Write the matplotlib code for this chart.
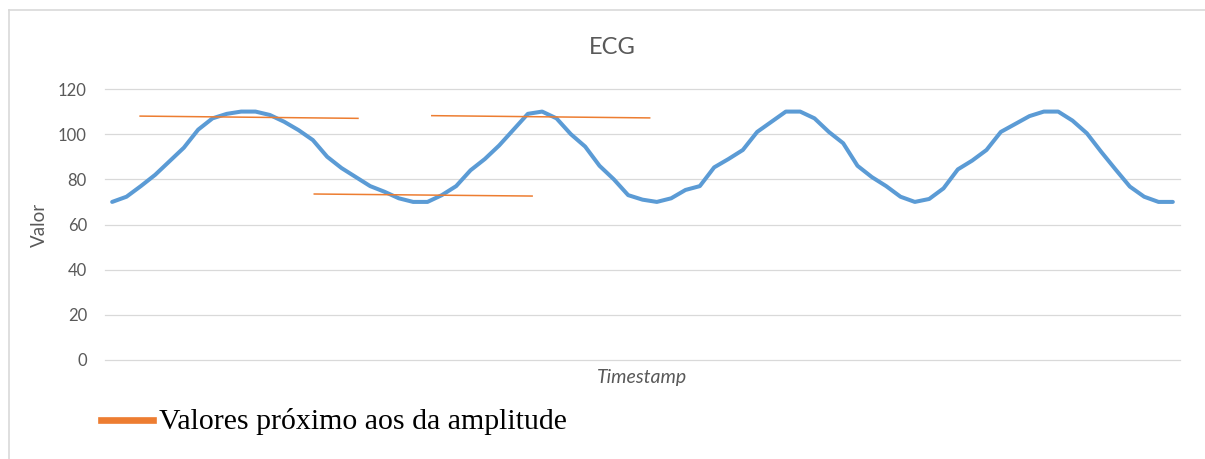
import matplotlib
matplotlib.use("Agg")
import matplotlib.pyplot as plt
from matplotlib.lines import Line2D

# ---- data ----
ecg_values = [70, 72.3, 77, 82, 88, 94, 102, 107, 109, 110,
              110, 108.5, 105.5, 101.8, 97.4, 90, 85, 81, 77, 74.5,
              71.6, 70, 70, 73, 77, 84, 89, 95, 102, 109,
              110, 107, 100, 94.5, 86, 80, 73, 71, 70, 71.6,
              75.3, 77, 85.3, 89, 93, 101, 105.5, 110, 110, 107,
              101, 96, 86, 81, 77, 72.3, 70, 71.3, 76, 84.4,
              88.3, 93, 101, 104.5, 108, 110, 110, 106, 100.4, 92.2,
              84.4, 76.8, 72.3, 70, 70]
timestamps = list(range(len(ecg_values)))

# orange reference lines near the amplitude (start idx, end idx, start val, end val)
ref_x_start = [1.95, 14.1, 22.3]
ref_x_end = [17.15, 29.3, 37.5]
ref_y_start = [108.0, 73.5, 108.2]
ref_y_end = [107.0, 72.6, 107.2]

y_ticks = [0, 20, 40, 60, 80, 100, 120]
title = "ECG"
y_label = "Valor"
x_label = "Timestamp"
legend_label = "Valores próximo aos da amplitude"

BLUE = "#5B9BD5"
ORANGE = "#ED7D31"
GRID = "#D9D9D9"
TXT = "#595959"

W, H = 1205, 459
fig = plt.figure(figsize=(W / 100, H / 100), dpi=100)
fig.patch.set_facecolor("white")

ax = fig.add_axes([105 / W, (H - 360) / H, 1075 / W, 271 / H])
ax.plot(timestamps, ecg_values, color=BLUE, lw=2.9, solid_joinstyle="round",
        solid_capstyle="round", zorder=3)
for xs, xe, ys, ye in zip(ref_x_start, ref_x_end, ref_y_start, ref_y_end):
    ax.plot([xs, xe], [ys, ye], color=ORANGE, lw=1.1, zorder=4)

ax.set_xlim(-0.5, len(ecg_values) - 0.5)
ax.set_ylim(0, 120)
ax.set_yticks(y_ticks)
ax.set_yticklabels([str(t) for t in y_ticks], fontsize=12, color=TXT, family="Lato")
ax.tick_params(axis="y", length=0, pad=13)
ax.set_xticks([])
ax.grid(axis="y", color=GRID, lw=0.9)
for gl in ax.get_ygridlines():
    gl.set_clip_on(False)
ax.set_axisbelow(True)
for s in ax.spines.values():
    s.set_visible(False)

fig.text(612 / W, 1 - 47 / H, title, ha="center", va="center", fontsize=17,
         color=TXT, family="Lato")
fig.text(39 / W, 1 - 225 / H, y_label, ha="center", va="center", rotation=90,
         fontsize=13.5, color=TXT, family="Lato")
fig.text(642 / W, 1 - 378 / H, x_label, ha="center", va="center", fontsize=14,
         color=TXT, family="Lato", style="italic")

# legend
fig.add_artist(Line2D([101 / W, 153 / W], [1 - 420 / H, 1 - 420 / H], color=ORANGE,
                      lw=4.8, transform=fig.transFigure))
fig.text(159 / W, 1 - 429 / H, legend_label, ha="left", va="baseline", fontsize=21.5,
         color="black", family="Liberation Serif")

# chart border
fig.add_artist(Line2D([9 / W, 9 / W], [0, 1 - 10 / H], color=GRID, lw=1.2,
                      transform=fig.transFigure))
fig.add_artist(Line2D([9 / W, 1], [1 - 10 / H, 1 - 10 / H], color=GRID, lw=1.2,
                      transform=fig.transFigure))

fig.savefig("out.png", dpi=100)
